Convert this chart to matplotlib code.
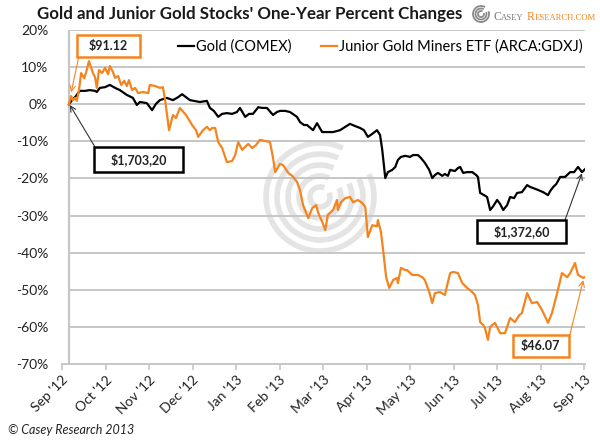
import matplotlib.pyplot as plt
import matplotlib.patches as ptc
import numpy as np

# month positions (0 = Sep '12) and one-year percent change
gold_m = [0.16, 0.23, 0.30, 0.41, 0.53, 0.64, 0.76, 0.80, 0.87, 0.99, 1.10, 1.22, 1.33, 1.49, 1.63, 1.72,
          1.79, 1.95, 2.07, 2.16, 2.25, 2.41, 2.55, 2.67, 2.76, 2.85, 2.94, 3.17, 3.33, 3.40, 3.49, 3.59,
          3.68, 3.79, 3.91, 4.02, 4.09, 4.21, 4.30, 4.39, 4.51, 4.60, 4.71, 4.85, 4.94, 5.01, 5.13, 5.24,
          5.40, 5.47, 5.56, 5.63, 5.77, 5.86, 5.98, 6.11, 6.23, 6.39, 6.51, 6.62, 6.74, 6.85, 6.94, 7.03,
          7.13, 7.24, 7.31, 7.36, 7.43, 7.49, 7.59, 7.66, 7.72, 7.79, 7.89, 8.00, 8.07, 8.18, 8.25, 8.34,
          8.44, 8.51, 8.57, 8.64, 8.74, 8.80, 8.87, 8.92, 9.03, 9.10, 9.15, 9.22, 9.31, 9.43, 9.52, 9.56,
          9.61, 9.70, 9.77, 9.84, 9.91, 10.00, 10.07, 10.14, 10.23, 10.30, 10.39, 10.46, 10.57, 10.69,
          10.76, 10.83, 10.94, 11.06, 11.17, 11.22, 11.29, 11.36, 11.45, 11.56, 11.68, 11.77, 11.86,
          11.95, 12.02]
gold_pct = [0.0, 1.1, 1.9, 3.6, 3.6, 3.8, 3.6, 3.3, 4.4, 4.6, 5.2, 4.4, 3.8, 2.5, 1.7, -0.2,
            0.6, 0.3, -1.6, 0.1, 1.1, 1.7, 1.1, 1.9, 2.7, 1.9, 1.1, 0.6, 0.9, -1.0, -1.8, -3.4,
            -2.6, -2.4, -2.6, -2.1, -1.0, -3.4, -2.6, -2.6, -0.8, -1.0, -1.0, -2.9, -2.1, -1.8, -1.8, -2.1,
            -3.4, -4.8, -5.6, -5.6, -7.0, -5.1, -7.5, -7.5, -7.5, -7.0, -6.1, -5.3, -5.9, -6.4, -7.0, -8.8,
            -8.0, -7.0, -8.3, -12.3, -19.9, -18.3, -17.7, -16.9, -15.0, -14.2, -13.9, -14.2, -13.7, -13.7, -14.5, -15.8,
            -17.7, -19.9, -19.1, -18.5, -19.3, -18.8, -19.3, -17.7, -18.0, -17.2, -16.9, -18.5, -18.3, -18.3, -19.1, -19.6,
            -23.9, -24.5, -25.0, -28.5, -27.5, -25.8, -26.9, -28.5, -27.2, -25.0, -25.3, -23.9, -23.7, -21.8,
            -22.3, -22.6, -23.1, -23.7, -24.5, -23.4, -22.3, -21.5, -19.6, -19.6, -18.3, -18.3, -16.9,
            -18.3, -17.5]

gdxj_m = [0.16, 0.21, 0.25, 0.30, 0.34, 0.39, 0.44, 0.51, 0.55, 0.62, 0.67, 0.71, 0.76, 0.80, 0.85, 0.92,
          0.99, 1.06, 1.10, 1.17, 1.22, 1.29, 1.36, 1.43, 1.49, 1.54, 1.61, 1.68, 1.75, 1.86, 1.98, 2.02,
          2.14, 2.25, 2.32, 2.37, 2.46, 2.55, 2.62, 2.71, 2.85, 2.99, 3.08, 3.13, 3.24, 3.33, 3.40, 3.45,
          3.52, 3.59, 3.68, 3.79, 3.91, 3.98, 4.05, 4.14, 4.28, 4.37, 4.46, 4.55, 4.67, 4.78, 4.85, 4.90,
          5.01, 5.08, 5.20, 5.29, 5.40, 5.47, 5.54, 5.66, 5.75, 5.84, 5.89, 5.98, 6.05, 6.11, 6.23, 6.32,
          6.34, 6.41, 6.51, 6.62, 6.69, 6.80, 6.90, 6.97, 7.03, 7.13, 7.24, 7.26, 7.33, 7.38, 7.45, 7.52,
          7.61, 7.70, 7.72, 7.79, 7.89, 7.93, 8.05, 8.18, 8.28, 8.34, 8.44, 8.51, 8.57, 8.69, 8.80, 8.92,
          8.99, 9.10, 9.20, 9.31, 9.40, 9.49, 9.56, 9.61, 9.68, 9.72, 9.79, 9.84, 9.95, 10.07, 10.18, 10.30,
          10.41, 10.51, 10.57, 10.69, 10.80, 10.92, 11.03, 11.17, 11.26, 11.38, 11.49, 11.61, 11.68, 11.79,
          11.86, 11.98, 12.02]
gdxj_pct = [0.0, 2.2, 1.1, 1.7, 0.9, 3.8, 8.4, 7.0, 8.4, 11.6, 9.8, 8.4, 7.3, 4.4, 9.2, 8.4,
            9.8, 8.1, 10.3, 8.7, 7.1, 7.6, 5.2, 6.3, 4.9, 6.5, 3.8, 4.4, 3.0, 3.3, 3.0, 5.2,
            4.9, 4.4, 4.6, 1.1, -7.0, -2.9, -3.7, -1.0, -2.9, -5.6, -7.0, -8.8, -7.0, -6.1, -7.0, -6.4,
            -6.4, -10.2, -11.8, -15.6, -15.3, -13.7, -10.2, -12.3, -10.7, -11.8, -11.0, -9.6, -9.9, -10.2, -14.5, -18.3,
            -16.1, -16.4, -18.5, -19.3, -20.9, -23.1, -27.2, -30.7, -28.0, -27.2, -29.3, -31.7, -33.9, -29.8, -28.5, -25.8,
            -28.5, -26.4, -25.3, -25.0, -26.4, -25.8, -26.6, -27.7, -35.8, -32.6, -32.9, -31.2, -34.4, -39.3, -46.6, -49.5,
            -47.4, -46.8, -48.2, -44.1, -44.7, -44.7, -46.0, -46.0, -46.6, -47.4, -50.6, -53.6, -50.9, -50.6, -51.4, -45.5,
            -45.2, -45.5, -48.2, -49.5, -50.3, -51.4, -54.1, -58.7, -59.5, -60.3, -63.5, -60.0, -58.9, -61.7, -61.7, -57.6,
            -58.7, -56.8, -56.3, -50.9, -53.6, -53.3, -55.4, -58.9, -56.3, -50.9, -45.5, -46.6, -45.5, -42.8,
            -46.0, -46.8, -46.6]

month_labels = ["Sep '12", "Oct '12", "Nov '12", "Dec '12", "Jan '13", "Feb '13", "Mar '13",
                "Apr '13", "May '13", "Jun '13", "Jul '13", "Aug '13", "Sep '13"]
y_ticks = [20, 10, 0, -10, -20, -30, -40, -50, -60, -70]

ORANGE = '#f5841f'
GRID = '#c6c6c6'
plt.rcParams['font.family'] = ['Lato', 'DejaVu Sans']

fig = plt.figure(figsize=(6, 4.4), dpi=100)
W, H = 600., 440.

# watermark spiral behind the plot
wm = fig.add_axes([(320 - 70) / W, 1 - (197 + 70) / H, 140 / W, 140 / H], zorder=0)
wm.set_xlim(-70, 70)
wm.set_ylim(-70, 70)
wm.axis('off')
for r in [10, 21, 32, 43, 54]:
    wm.add_patch(ptc.Arc((0, 0), 2 * r, 2 * r, theta1=65, theta2=385, lw=4, color='#e4e4e4'))

ax = fig.add_axes([62 / W, 1 - 364 / H, 523 / W, 334 / H], zorder=1)
ax.set_facecolor('none')
x0 = gold_m[0]
ax.set_xlim(0, 12.02)
ax.set_ylim(-70, 20)
ax.hlines(y_ticks, x0, 12.02, color=GRID, lw=1.4, zorder=1)
ax.axvline(x0, color=GRID, lw=1.6, zorder=1)
for s in ['top', 'right', 'left']:
    ax.spines[s].set_visible(False)
ax.spines['bottom'].set_color(GRID)
ax.spines['bottom'].set_linewidth(1.4)

ax.plot(gold_m, gold_pct, color='black', lw=1.6, label='Gold (COMEX)', zorder=3)
ax.plot(gdxj_m, gdxj_pct, color=ORANGE, lw=1.6, label='Junior Gold Miners ETF (ARCA:GDXJ)', zorder=3)

ax.set_yticks(y_ticks)
ax.set_yticklabels(['%d%%' % v for v in y_ticks], fontsize=10, color='#222222')
ax.tick_params(axis='y', length=0, pad=10)
ax.set_xticks(range(13))
ax.set_xticklabels(month_labels, rotation=45, ha='right', rotation_mode='anchor', fontsize=10, color='#222222')
ax.tick_params(axis='x', length=4, width=1.2, color=GRID, pad=3)

leg = ax.legend(loc='center', bbox_to_anchor=(0.608, 0.949), ncol=2, frameon=False, fontsize=10.5,
                handlelength=1.1, handletextpad=0.15, columnspacing=2.0)

# annotation boxes (axes fraction)
def box(x1, x2, y1, y2, text, ec):
    ax.add_patch(ptc.Rectangle((x1, y1), x2 - x1, y2 - y1, transform=ax.transAxes, facecolor='white',
                               edgecolor=ec, lw=1.8, zorder=5, clip_on=False))
    ax.text((x1 + x2) / 2, (y1 + y2) / 2, text, transform=ax.transAxes, ha='center', va='center',
            fontsize=9, fontweight='bold', color='#222222', zorder=6)

def arrow(tail, head, col):
    ax.annotate('', xy=head, xycoords='data', xytext=tail, textcoords='axes fraction',
                arrowprops=dict(arrowstyle='->', color=col, lw=0.8, shrinkA=0, shrinkB=0), zorder=4)

box(0.0287, 0.149, 0.919, 0.985, '$91.12', ORANGE)
arrow((0.032, 0.919), (gdxj_m[1], 3.2), ORANGE)
box(0.0612, 0.2314, 0.575, 0.650, '$1,703,20', 'black')
arrow((0.063, 0.650), (gold_m[0] + 0.02, -0.2), '#333333')
box(0.7935, 0.9637, 0.362, 0.431, '$1,372,60', 'black')
arrow((0.9618, 0.431), (gold_m[-2], -18.6), '#333333')
box(0.862, 0.969, 0.021, 0.087, '$46.07', ORANGE)
arrow((0.971, 0.087), (gdxj_m[-2], -47.4), ORANGE)

fig.text(250 / W, 1 - 14 / H, "Gold and Junior Gold Stocks' One-Year Percent Changes", ha='center', va='center',
         fontsize=12.2, fontweight='bold', color='#1a1a1a')

# logo
lg = fig.add_axes([470 / W, 1 - 25 / H, 22 / W, 22 / H])
lg.set_xlim(-11, 11)
lg.set_ylim(-11, 11)
lg.set_aspect('equal')
lg.axis('off')
for r in [3, 5.5, 8]:
    lg.add_patch(ptc.Arc((0, 0), 2 * r, 2 * r, theta1=60, theta2=380, lw=1.3, color='#8a8a8a'))
parts = [('C', 8.5, '#7a7a7a'), ('ASEY', 6.2, '#7a7a7a'), ('R', 8.5, ORANGE), ('ESEARCH.COM', 6.2, ORANGE)]
logo = [fig.text(0, 1 - 20 / H, txt, fontsize=sz, family='Liberation Serif', color=col, va='baseline')
        for txt, sz, col in parts]
fig.canvas.draw()
# lay the logo pieces one after the other
r = fig.canvas.get_renderer()
x = 493.
for i, t in enumerate(logo):
    if i == 2:
        x += 3
    t.set_position((x / W, 1 - 20 / H))
    x = t.get_window_extent(r).x1

fig.text(8 / W, 1 - 430 / H, '\u00a9 Casey Research 2013', fontsize=9, style='italic', color='#222222', va='center')

fig.savefig('out.png', dpi=100, facecolor='white')
